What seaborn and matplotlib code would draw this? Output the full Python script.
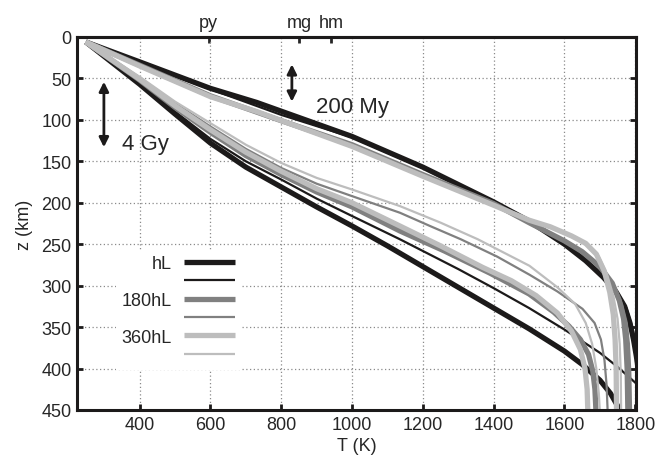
import matplotlib
matplotlib.use("Agg")
import matplotlib.pyplot as plt
import seaborn as sns
import pandas as pd

# ---------------- data (T in K, z in km) ----------------
# 200 My family
T_200_hL_thick = [248, 400, 600, 731, 1000, 1200, 1400, 1500, 1600, 1660, 1710, 1745, 1770, 1785, 1795, 1803, 1815, 1830]
z_200_hL_thick = [6, 30, 62, 79, 120, 157, 199, 222, 250, 270, 290, 307, 325, 345, 365, 385, 420, 450]
T_200_hL_thin = [248, 400, 600, 800, 1000, 1200, 1400, 1500, 1600, 1665, 1715, 1750, 1775, 1790, 1800, 1808, 1820]
z_200_hL_thin = [6, 31, 63, 94, 121, 158, 200, 223, 251, 271, 291, 308, 327, 348, 368, 390, 450]
T_200_180_thick = [248, 400, 600, 800, 1000, 1200, 1400, 1500, 1600, 1650, 1700, 1735, 1755, 1767, 1773, 1777, 1779]
z_200_180_thick = [6, 34, 71, 101, 130, 166, 201, 224, 246, 259, 277, 297, 318, 340, 365, 400, 450]
T_200_180_thin = [248, 400, 600, 800, 1000, 1200, 1400, 1500, 1600, 1655, 1705, 1742, 1763, 1776, 1782, 1786, 1788]
z_200_180_thin = [6, 34, 71, 101, 130, 166, 201, 224, 247, 261, 280, 301, 323, 345, 370, 405, 450]
T_200_360_thick = [248, 400, 600, 731, 1000, 1200, 1400, 1500, 1560, 1620, 1660, 1690, 1712, 1728, 1738, 1743, 1746, 1747]
z_200_360_thick = [6, 35, 72, 90, 132, 168, 203, 221, 229, 240, 249, 262, 282, 308, 335, 365, 400, 450]
T_200_360_thin = [248, 400, 600, 800, 1000, 1200, 1400, 1500, 1565, 1625, 1665, 1697, 1720, 1738, 1750, 1756, 1759, 1760]
z_200_360_thin = [6, 35, 72, 100, 132, 168, 203, 221, 230, 241, 251, 265, 286, 312, 340, 370, 405, 450]

# 4 Gy family
T_4G_hL_thick = [248, 400, 500, 600, 700, 800, 900, 1000, 1100, 1200, 1400, 1500, 1600, 1650, 1700, 1730, 1750, 1758]
z_4G_hL_thick = [6, 57, 93, 128, 157, 181, 205, 228, 252, 277, 327, 352, 379, 395, 414, 430, 445, 452]
T_4G_hL_thin = [248, 400, 500, 600, 700, 800, 900, 1000, 1135, 1300, 1400, 1500, 1600, 1700, 1750, 1800, 1850]
z_4G_hL_thin = [6, 55, 90, 123, 150, 172, 195, 216, 244, 280, 303, 327, 353, 381, 398, 417, 440]
T_4G_180_thick = [248, 400, 500, 600, 700, 800, 900, 1000, 1135, 1260, 1390, 1500, 1570, 1613, 1645, 1668, 1680, 1686, 1689]
z_4G_180_thick = [6, 52, 85, 115, 143, 166, 187, 205, 234, 258, 285, 310, 332, 349, 365, 383, 403, 425, 452]
T_4G_180_thin = [248, 400, 500, 600, 700, 800, 900, 1000, 1135, 1220, 1307, 1410, 1502, 1580, 1651, 1685, 1703, 1713, 1719, 1722]
z_4G_180_thin = [6, 49, 80, 108, 135, 158, 177, 192, 212, 228, 244, 265, 287, 307, 328, 345, 365, 390, 420, 452]
T_4G_360_thick = [248, 400, 500, 600, 700, 800, 900, 1000, 1135, 1250, 1369, 1450, 1520, 1580, 1620, 1645, 1658, 1664, 1666]
z_4G_360_thick = [6, 51, 83, 112, 139, 162, 183, 200, 228, 252, 278, 294, 312, 333, 355, 377, 400, 425, 452]
T_4G_360_thin = [248, 400, 500, 600, 700, 800, 900, 1000, 1135, 1250, 1355, 1501, 1580, 1630, 1660, 1678, 1690, 1697, 1700]
z_4G_360_thin = [6, 48, 78, 104, 130, 152, 170, 184, 204, 224, 244, 276, 302, 322, 345, 370, 400, 430, 452]

legend_labels = ["hL", "", "180hL", "", "360hL", ""]
top_ticks = [595, 850, 940]
top_labels = ["py", "mg", "hm"]
x_ticks = [400, 600, 800, 1000, 1200, 1400, 1600, 1800]
y_ticks = [0, 50, 100, 150, 200, 250, 300, 350, 400, 450]

curves = [
    ("200_hL_thick", T_200_hL_thick, z_200_hL_thick),
    ("200_hL_thin", T_200_hL_thin, z_200_hL_thin),
    ("4G_hL_thick", T_4G_hL_thick, z_4G_hL_thick),
    ("4G_hL_thin", T_4G_hL_thin, z_4G_hL_thin),
    ("200_180_thin", T_200_180_thin, z_200_180_thin),
    ("200_180_thick", T_200_180_thick, z_200_180_thick),
    ("4G_180_thick", T_4G_180_thick, z_4G_180_thick),
    ("4G_180_thin", T_4G_180_thin, z_4G_180_thin),
    ("200_360_thin", T_200_360_thin, z_200_360_thin),
    ("200_360_thick", T_200_360_thick, z_200_360_thick),
    ("4G_360_thick", T_4G_360_thick, z_4G_360_thick),
    ("4G_360_thin", T_4G_360_thin, z_4G_360_thin),
]

rows = []
for name, Ts, zs in curves:
    for t, z in zip(Ts, zs):
        rows.append({"curve": name, "T": t, "z": z})
df = pd.DataFrame(rows)

black = "#1c1a1a"
dgrey = "#808080"
lgrey = "#bdbdbd"
style = {
    "hL_thick": (black, 3.8), "hL_thin": (black, 1.6),
    "180_thick": (dgrey, 3.8), "180_thin": (dgrey, 1.6),
    "360_thick": (lgrey, 3.8), "360_thin": (lgrey, 1.6),
}

sns.set_style("ticks")
plt.rcParams["font.family"] = ["Liberation Sans", "DejaVu Sans"]
plt.rcParams["font.size"] = 13

fig = plt.figure(figsize=(6.62, 4.56), dpi=100)
ax = fig.add_axes([0.1163, 0.0987, 0.8444, 0.818])

handles = {}
for name, _, _ in curves:
    key = name.split("_", 1)[1]
    color, lw = style[key]
    sub = df[df["curve"] == name]
    sns.lineplot(data=sub, x="T", y="z", sort=False, estimator=None,
                 color=color, linewidth=lw, ax=ax, legend=False,
                 solid_capstyle="butt", solid_joinstyle="round")
    handles[key] = ax.lines[-1]

ax.set_xlim(223, 1802)
ax.set_ylim(450, 0)
ax.set_xticks(x_ticks)
ax.set_yticks(y_ticks)
ax.set_xlabel("T (K)", fontsize=13, labelpad=3)
ax.set_ylabel("z (km)", fontsize=13, labelpad=6)
ax.grid(True, color="#8a8a8a", linestyle=(0, (1, 2)), linewidth=0.9)
ax.set_axisbelow(True)
for s in ax.spines.values():
    s.set_linewidth(2.2)
    s.set_color("#1c1a1a")
ax.tick_params(direction="in", length=4, width=2, labelsize=13, right=True,
               top=False, pad=4, color="#1c1a1a")

sec = ax.secondary_xaxis("top")
sec.set_xticks(top_ticks)
sec.set_xticklabels(top_labels)
sec.tick_params(direction="in", length=4, width=2, labelsize=13, pad=4)
sec.spines["top"].set_linewidth(2.2)

# arrows and annotations
arrow_kw = dict(arrowstyle="<|-|>", color="#1c1a1a", lw=2, mutation_scale=14,
                shrinkA=0, shrinkB=0)
ax.annotate("", xy=(299, 54), xytext=(299, 133), arrowprops=arrow_kw)
ax.annotate("", xy=(830, 33), xytext=(830, 78), arrowprops=arrow_kw)
ax.text(350, 128, "4 Gy", fontsize=16, va="center", ha="left")
ax.text(898, 84, "200 My", fontsize=16, va="center", ha="left")

keys = ["hL_thick", "hL_thin", "180_thick", "180_thin", "360_thick", "360_thin"]
leg = ax.legend([handles[k] for k in keys], legend_labels, loc="upper left",
                bbox_to_anchor=(0.07, 0.43), markerfirst=False, frameon=True,
                framealpha=1, edgecolor="white", fancybox=False, fontsize=13,
                handlelength=2.8, handletextpad=0.7, labelspacing=0.08,
                borderpad=0.3, borderaxespad=0)
leg.get_frame().set_linewidth(0)

fig.savefig("out.png", dpi=100)
